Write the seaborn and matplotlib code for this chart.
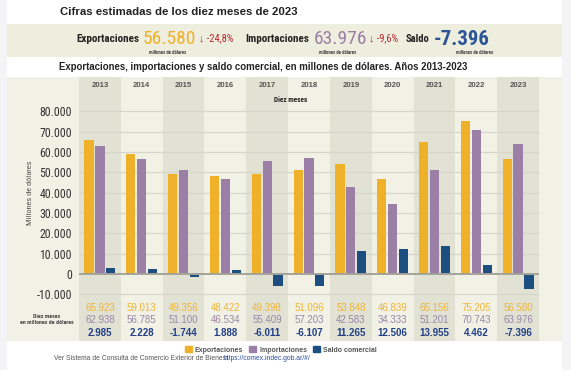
import pandas as pd
import matplotlib
matplotlib.use("Agg")
import matplotlib.pyplot as plt
from matplotlib.patches import Rectangle, Patch
import seaborn as sns

# -------------------------------
# Data (millones de dólares, diez meses)
# -------------------------------

years = ["2013", "2014", "2015", "2016", "2017", "2018",
         "2019", "2020", "2021", "2022", "2023"]
exportaciones = [65923, 59013, 49356, 48422, 49398, 51096,
                 53848, 46839, 65156, 75205, 56580]
importaciones = [62938, 56785, 51100, 46534, 55409, 57203,
                 42583, 34333, 51201, 70743, 63976]
saldo = [2985, 2228, -1744, 1888, -6011, -6107,
         11265, 12506, 13955, 4462, -7396]

series = ["Exportaciones", "Importaciones", "Saldo comercial"]
y_ticks = [-10000, 0, 10000, 20000, 30000, 40000, 50000, 60000, 70000, 80000]

kpi_expo = "56.580"
kpi_expo_var = "↓ -24,8%"
kpi_impo = "63.976"
kpi_impo_var = "↓ -9,6%"
kpi_saldo = "-7.396"

# colours
C_EXPO = "#F0B12A"
C_IMPO = "#9B7FA6"
C_SALDO = "#1D4E80"
C_EXPO_TXT = "#F0B535"
C_IMPO_TXT = "#9A86A8"
C_SALDO_TXT = "#223F88"
BG_LIGHT = "#F1F1E6"
BG_DARK = "#E1E1D4"
BANNER = "#EEEEDF"

NARROW = ["Roboto Condensed", "Liberation Sans", "DejaVu Sans"]
SANS = ["Liberation Sans", "DejaVu Sans"]


def fmt(v):
    return f"{v:,}".replace(",", ".")


df = pd.DataFrame({
    "anio": years * 3,
    "valor": exportaciones + importaciones + saldo,
    "serie": [series[0]] * 11 + [series[1]] * 11 + [series[2]] * 11,
})

# -------------------------------
# Figure
# -------------------------------

W, H = 571, 389
fig = plt.figure(figsize=(W / 100, H / 100), dpi=100)
fig.patch.set_facecolor("white")
plt.rcParams["font.family"] = SANS


def fx(x):
    return x / W


def fy(y):
    return 1 - y / H


def rect(x0, y0, x1, y1, color):
    fig.add_artist(Rectangle((fx(x0), fy(y1)), fx(x1) - fx(x0), fy(y0) - fy(y1),
                             transform=fig.transFigure, color=color, zorder=-5, lw=0))


# outer gray margins, banner, panel
rect(0, 0, 7, 370, "#F4F4F6")
rect(562, 0, 571, 370, "#F4F4F6")
rect(7, 24, 562, 57, BANNER)
rect(7, 77, 562, 341, BG_LIGHT)

# titles
fig.text(fx(60), fy(12), "Cifras estimadas de los diez meses de 2023",
         fontsize=8.2, fontweight="bold", color="#222222", va="center")
fig.text(fx(59), fy(67),
         "Exportaciones, importaciones y saldo comercial, en millones de dólares. Años 2013-2023",
         fontsize=6.9, fontweight="bold", color="#222222", va="center")

# KPI row
ky = 39.5
fig.text(fx(76), fy(ky), "Exportaciones", family=NARROW, fontsize=8,
         fontweight="bold", color="#222222", va="center")
fig.text(fx(143), fy(ky), kpi_expo, family=NARROW, fontsize=14,
         color=C_EXPO, va="center")
fig.text(fx(199), fy(ky - 1), kpi_expo_var, family=NARROW, fontsize=7.6,
         color="#B8282E", va="center")
fig.text(fx(168), fy(52), "millones de dólares", family=NARROW, fontsize=3.4,
         fontweight="bold", color="#444444", ha="center", va="center")

fig.text(fx(245), fy(ky), "Importaciones", family=NARROW, fontsize=8,
         fontweight="bold", color="#222222", va="center")
fig.text(fx(314), fy(ky), kpi_impo, family=NARROW, fontsize=14,
         color=C_IMPO, va="center")
fig.text(fx(369), fy(ky - 1), kpi_impo_var, family=NARROW, fontsize=7.6,
         color="#B8282E", va="center")
fig.text(fx(338), fy(52), "millones de dólares", family=NARROW, fontsize=3.4,
         fontweight="bold", color="#444444", ha="center", va="center")

fig.text(fx(406), fy(ky), "Saldo", family=NARROW, fontsize=7.6,
         fontweight="bold", color="#222222", va="center")
fig.text(fx(434), fy(ky), kpi_saldo, family=NARROW, fontsize=15,
         fontweight="bold", color="#2B5597", va="center")
fig.text(fx(475), fy(52), "millones de dólares", family=NARROW, fontsize=3.4,
         fontweight="bold", color="#444444", ha="center", va="center")

# -------------------------------
# Bar chart
# -------------------------------

ax = fig.add_axes([fx(79), fy(341), fx(562) - fx(79), fy(77) - fy(341)])
ax.set_facecolor("none")

for i in range(len(years)):
    if i % 2 == 0:
        ax.axvspan(i - 0.5, i + 0.5, color=BG_DARK, lw=0, zorder=0)

for t in y_ticks:
    if t == 0:
        continue
    ax.hlines(t, -0.5, len(years) - 0.5, color="#D6D6CA", lw=0.9, zorder=1)

sns.barplot(
    data=df, x="anio", y="valor", hue="serie",
    order=years, hue_order=series,
    palette=[C_EXPO, C_IMPO, C_SALDO],
    saturation=1, width=0.78, gap=0.15,
    legend=False, ax=ax, zorder=2
)

ax.hlines(0, -0.5, len(years) - 0.5, color="#A3A39A", lw=1.4, zorder=3)

ax.set_xlim(-0.5, len(years) - 0.5 + 23 / 41.8)
ax.set_ylim(-33000, 96900)

for s in ax.spines.values():
    s.set_visible(False)
ax.set_xticks([])
ax.set_yticks(y_ticks)
ax.set_yticklabels([fmt(t) for t in y_ticks], family=NARROW, fontsize=8.6, color="#333333")
ax.tick_params(axis="y", length=0, pad=5)
ax.set_xlabel("")
ax.set_ylabel("")

fig.text(fx(30), fy(193), "Millones de dólares", rotation=90, family=NARROW,
         fontsize=6, color="#555555", ha="center", va="center")

# year labels and table
for i, yr in enumerate(years):
    ax.text(i, 92700, yr, ha="center", va="center", fontsize=5.6,
            fontweight="bold", color="#555555", clip_on=False)
    ax.text(i, -16900, fmt(exportaciones[i]), ha="center", va="center",
            family=SANS, fontsize=7, color=C_EXPO_TXT)
    ax.text(i, -22800, fmt(importaciones[i]), ha="center", va="center",
            family=SANS, fontsize=7, color=C_IMPO_TXT)
    ax.text(i, -29100, fmt(saldo[i]), ha="center", va="center",
            family=SANS, fontsize=7, fontweight="bold", color=C_SALDO_TXT)

ax.text(4.55, 85400, "Diez meses", ha="center", va="center", family=NARROW,
        fontsize=5.2, fontweight="bold", color="#222222")

fig.text(fx(47), fy(316), "Diez meses", ha="center", va="center", family=NARROW,
         fontsize=4.2, fontweight="bold", color="#444444")
fig.text(fx(47), fy(322.5), "en millones de dólares", ha="center", va="center",
         family=NARROW, fontsize=4.2, fontweight="bold", color="#444444")

# legend
handles = [Patch(color=c, label=l) for c, l in zip([C_EXPO, C_IMPO, C_SALDO], series)]
leg = fig.legend(handles=handles, loc="center", bbox_to_anchor=(fx(281), fy(350)),
                 ncol=3, frameon=False, fontsize=5, handlelength=1.0,
                 handleheight=1.0, handletextpad=0.4, columnspacing=0.9)
for t in leg.get_texts():
    t.set_color("#555555")
    t.set_fontweight("bold")

# footer
fig.text(fx(54), fy(359), "Ver Sistema de Consulta de Comercio Exterior de Bienes: ",
         fontsize=4.9, color="#555555", va="center")
fig.text(fx(224), fy(359), "https://comex.indec.gob.ar/#/",
         fontsize=4.9, color="#2A4E9C", va="center")

fig.savefig("out.png", dpi=100)
plt.close(fig)
